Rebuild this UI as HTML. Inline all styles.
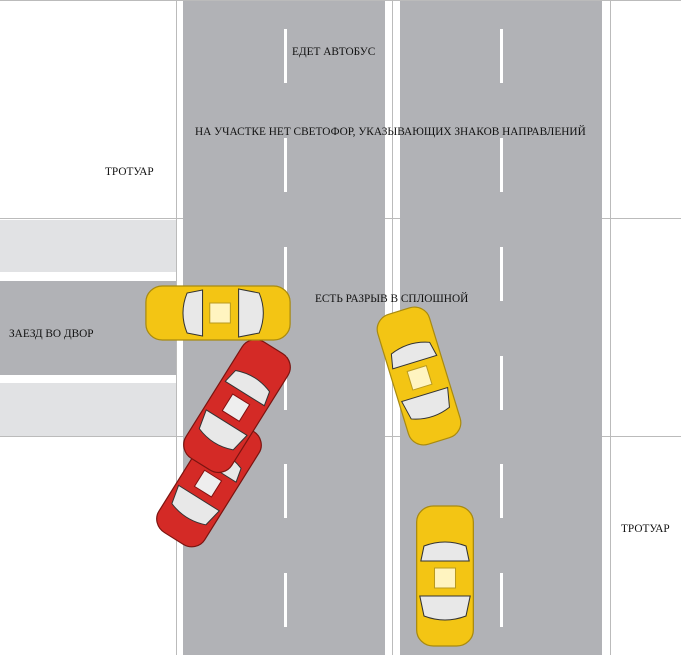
<!DOCTYPE html>
<html><head><meta charset="utf-8"><style>
body{margin:0;background:#fff}
svg{display:block}
text{font-family:"Liberation Serif",serif;font-size:11.3px;fill:#111}
</style></head><body>
<svg width="681" height="655" viewBox="0 0 681 655">
<defs>
<g id="carY">
<rect x="-70" y="-27" width="140" height="54" rx="16" fill="#f3c514" stroke="#a88a10" stroke-width="1.2"/>
<path d="M-40,-20 L-20,-24 L-20,24 L-40,20 Q-48,0 -40,-20Z" fill="#e8e8e8" stroke="#333"/>
<path d="M30,-20 L15,-23 L15,23 L30,20 Q38,0 30,-20Z" fill="#e8e8e8" stroke="#333"/>
<rect x="-12" y="-10" width="20" height="20" fill="#fff4c0" stroke="#b89a20"/>
</g>
<g id="carR">
<rect x="-70" y="-27" width="140" height="54" rx="16" fill="#d42a26" stroke="#7a1410" stroke-width="1.2"/>
<path d="M-40,-20 L-20,-24 L-20,24 L-40,20 Q-48,0 -40,-20Z" fill="#e8e8e8" stroke="#333"/>
<path d="M30,-20 L15,-23 L15,23 L30,20 Q38,0 30,-20Z" fill="#e8e8e8" stroke="#333"/>
<rect x="-12" y="-10" width="20" height="20" fill="#eee" stroke="#801010"/>
</g>
</defs>
<g stroke="#bbb" stroke-width="1">
<line x1="176.5" y1="0" x2="176.5" y2="655"/>
<line x1="392.5" y1="0" x2="392.5" y2="655"/>
<line x1="610.5" y1="0" x2="610.5" y2="655"/>
<line x1="0" y1="218.5" x2="681" y2="218.5"/>
<line x1="0" y1="436.5" x2="681" y2="436.5"/>
<line x1="0" y1="0.5" x2="681" y2="0.5"/>
</g>
<rect x="183" y="1" width="202" height="654" fill="#b1b2b6"/>
<rect x="400" y="1" width="202" height="654" fill="#b1b2b6"/>
<rect x="0" y="220" width="176" height="52" fill="#e1e2e4"/>
<rect x="0" y="281" width="176" height="94" fill="#b1b2b6"/>
<rect x="0" y="383" width="176" height="53" fill="#e1e2e4"/>
<g fill="#fff">
<rect x="284" y="29" width="3" height="54"/><rect x="284" y="138" width="3" height="54"/>
<rect x="284" y="247" width="3" height="54"/><rect x="284" y="356" width="3" height="54"/>
<rect x="284" y="464" width="3" height="54"/><rect x="284" y="573" width="3" height="54"/>
<rect x="500" y="29" width="3" height="54"/><rect x="500" y="138" width="3" height="54"/>
<rect x="500" y="247" width="3" height="54"/><rect x="500" y="356" width="3" height="54"/>
<rect x="500" y="464" width="3" height="54"/><rect x="500" y="573" width="3" height="54"/>
</g>
<use href="#carR" transform="translate(209,482) rotate(-58) scale(0.95,1)"/>
<use href="#carR" transform="translate(237,406) rotate(-58) scale(0.98,1)"/>
<use href="#carY" transform="translate(218,313) rotate(180) scale(1.03,1)"/>
<use href="#carY" transform="translate(419,376) rotate(-107) scale(0.97,1)"/>
<use href="#carY" transform="translate(445,576) rotate(-90) scale(1.0,1.05)"/>
<text x="292" y="55">ЕДЕТ АВТОБУС</text>
<text x="195" y="135">НА УЧАСТКЕ НЕТ СВЕТОФОР, УКАЗЫВАЮЩИХ ЗНАКОВ НАПРАВЛЕНИЙ</text>
<text x="105" y="175">ТРОТУАР</text>
<text x="315" y="302">ЕСТЬ РАЗРЫВ В СПЛОШНОЙ</text>
<text x="9" y="337">ЗАЕЗД ВО ДВОР</text>
<text x="621" y="532">ТРОТУАР</text>
</svg>
</body></html>
